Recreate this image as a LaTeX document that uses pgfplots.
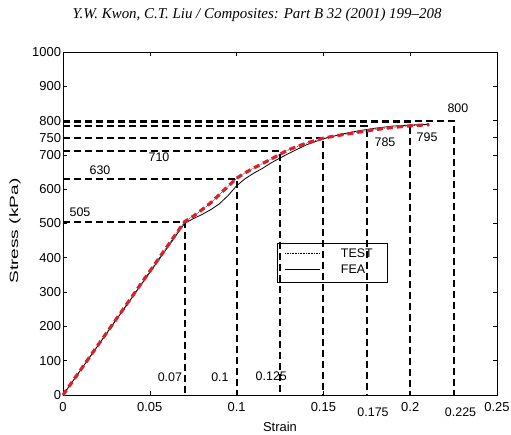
\documentclass[border=0pt]{standalone}
\usepackage{fontspec}
\setmainfont{Liberation Sans}
\newfontfamily\headfont{Liberation Serif}
\usepackage{pgfplots}
\pgfplotsset{compat=1.18}
\definecolor{testred}{RGB}{218,32,40}
\tikzset{lab/.style={font=\fontsize{12.5}{14}\selectfont}}

\begin{document}
\begin{tikzpicture}
\useasboundingbox (-63bp,-40bp) rectangle (448bp,395bp);
\begin{axis}[
  at={(0,0)}, anchor=south west, scale only axis,
  width=434bp, height=343bp,
  xmin=0, xmax=0.25, ymin=0, ymax=1000,
  xtick={0,0.05,0.1,0.15,0.2,0.25},
  xticklabels={0,0.05,0.1,0.15,0.2,0.25},
  ytick={0,100,200,300,400,500,600,700,800,900,1000},
  yticklabels={0,100,200,300,400,500,600,700,800,900,1000},
  extra y ticks={750}, extra y tick labels={750},
  scaled ticks=false,
  tick align=inside, major tick length=4bp,
  tick style={black, line width=0.6bp},
  tick label style={font=\fontsize{13}{15}\selectfont},
  xticklabel style={yshift=-4bp},
  yticklabel style={xshift=1.5bp},
  /pgf/number format/assume math mode=true,
  axis line style={line width=0.8bp},
  clip=false,
]
% guide lines
\pgfplotsset{guide/.style={black, line width=2bp, dash pattern=on 7bp off 4bp}}
\addplot[guide] coordinates {(0,505) (0.07,505) (0.07,0)};
\addplot[guide] coordinates {(0,630) (0.1,630) (0.1,0)};
\addplot[guide] coordinates {(0,710) (0.125,710) (0.125,0)};
\addplot[guide] coordinates {(0,750) (0.15,750) (0.15,0)};
\addplot[guide] coordinates {(0,785) (0.175,785) (0.175,0)};
\addplot[guide] coordinates {(0,795) (0.2,795) (0.2,0)};
\addplot[guide] coordinates {(0,800) (0.225,800) (0.225,0)};

% FEA
\addplot[black, line width=0.8bp] coordinates {
  (0,0) (0.07,500) (0.075,514) (0.08,526) (0.085,540) (0.09,557) (0.095,581)
  (0.1,610) (0.105,631) (0.11,647) (0.115,661) (0.12,677) (0.125,691)
  (0.13,704) (0.14,729) (0.15,747) (0.16,760) (0.17,770) (0.18,778)
  (0.19,784) (0.2,787) (0.21,789)
};
% TEST
\addplot[black, line width=0.6bp, densely dotted] coordinates {
  (0,0) (0.07,505) (0.075,521) (0.08,540) (0.085,560) (0.09,584) (0.095,608)
  (0.1,632) (0.105,648) (0.11,662) (0.12,688) (0.125,702) (0.13,715)
  (0.14,734) (0.15,749) (0.16,758) (0.17,766) (0.175,770) (0.18,774)
  (0.19,780) (0.2,785) (0.211,788)
};
\addplot[testred, line width=3.2bp, dash pattern=on 6bp off 4bp] coordinates {
  (0,0) (0.07,505) (0.075,521) (0.08,540) (0.085,560) (0.09,584) (0.095,608)
  (0.1,632) (0.105,648) (0.11,662) (0.12,688) (0.125,702) (0.13,715)
  (0.14,734) (0.15,749) (0.16,758) (0.17,766) (0.175,770) (0.18,774)
  (0.19,780) (0.2,785) (0.211,788)
};

% value labels
\node[lab] at (axis cs:0.0098,534) {505};
\node[lab] at (axis cs:0.0213,656) {630};
\node[lab] at (axis cs:0.0553,694) {710};
\node[lab] at (axis cs:0.1855,737) {785};
\node[lab] at (axis cs:0.2097,752) {795};
\node[lab] at (axis cs:0.2275,837) {800};
\node[lab] at (axis cs:0.0616,52) {0.07};
\node[lab] at (axis cs:0.0904,52) {0.1};
\node[lab] at (axis cs:0.120,55) {0.125};
\node[lab] at (axis cs:0.1786,-50) {0.175};
\node[lab] at (axis cs:0.229,-50) {0.225};

% legend
\draw[black, line width=0.8bp] (axis cs:0.1233,443) rectangle (axis cs:0.1866,329);
\draw[black, line width=0.6bp, densely dotted] (axis cs:0.128,414) -- (axis cs:0.148,414);
\draw[black, line width=0.8bp] (axis cs:0.128,367) -- (axis cs:0.148,367);
\node[lab, anchor=west, inner sep=0] at (axis cs:0.160,414) {TEST};
\node[lab, anchor=west, inner sep=0] at (axis cs:0.160,367) {FEA};

% axis labels and header
\node[font=\fontsize{13}{15}\selectfont] at (axis cs:0.125,-93) {Strain};
\node[rotate=90, font=\fontsize{12}{14}\selectfont] at (axis cs:-0.0276,478) {\scalebox{1.6}[1]{Stress (kPa)}};
\node at (axis cs:0.1118,1108) {\headfont\itshape\fontsize{15}{17}\selectfont Y.W. Kwon, C.T. Liu / Composites: Part B 32 (2001) 199–208};
\end{axis}
\end{tikzpicture}
\end{document}
